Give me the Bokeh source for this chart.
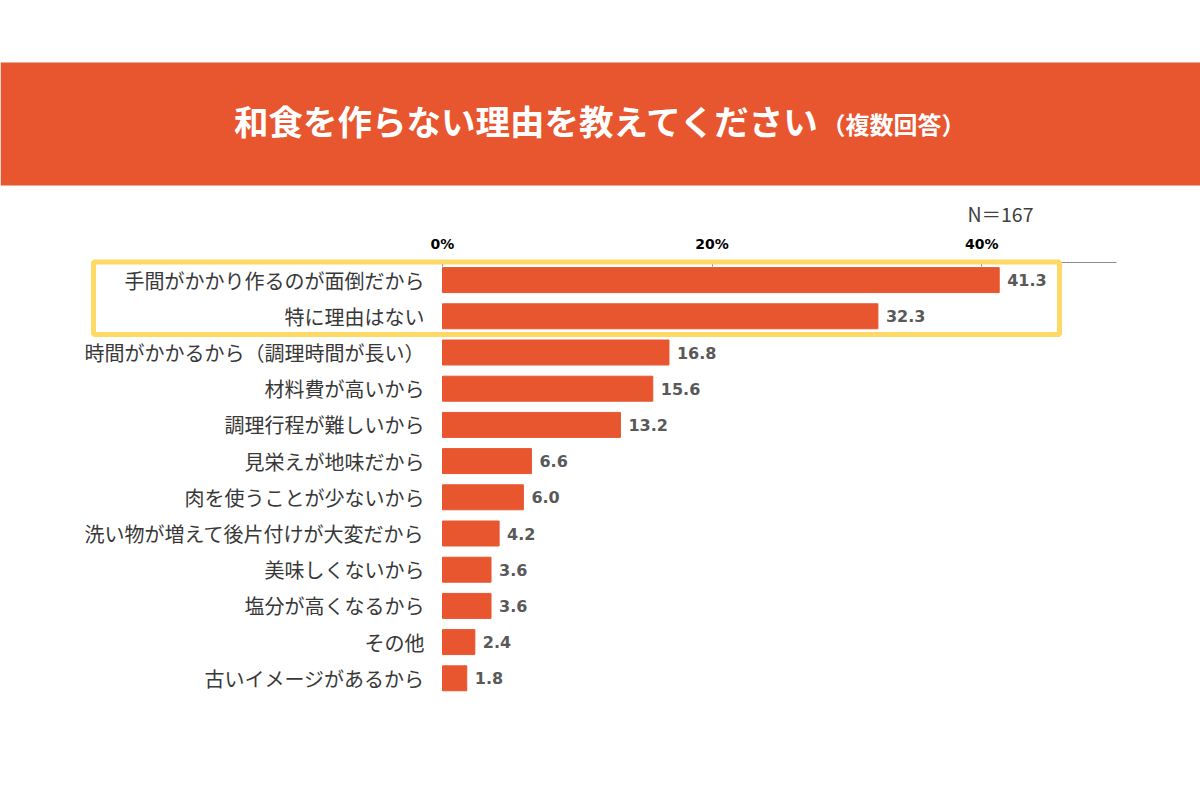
from bokeh.plotting import figure
from bokeh.models import (Range1d, FixedTicker, BoxAnnotation,
                          ColumnDataSource, PrintfTickFormatter)
from bokeh.core.properties import value
from bokeh.embed import file_html
from bokeh.resources import INLINE

# ---- data ----
categories = [
    "手間がかかり作るのが面倒だから",
    "特に理由はない",
    "時間がかかるから（調理時間が長い）",
    "材料費が高いから",
    "調理行程が難しいから",
    "見栄えが地味だから",
    "肉を使うことが少ないから",
    "洗い物が増えて後片付けが大変だから",
    "美味しくないから",
    "塩分が高くなるから",
    "その他",
    "古いイメージがあるから",
]
values = [41.3, 32.3, 16.8, 15.6, 13.2, 6.6, 6.0, 4.2, 3.6, 3.6, 2.4, 1.8]
x_ticks = [0, 20, 40]
x_max = 50
title_main = "和食を作らない理由を教えてください"
title_sub = "（複数回答）"
n_text = "N＝167"

ORANGE = "#E8562F"
YELLOW = "#FFD966"
JP = "Noto Sans CJK JP"

# ---- layout geometry (pixels) ----
W, H = 1200, 790
TOP = 40                 # frame top (space for the top axis panel)
X0_PX = 442              # where 0 % sits
PX_PER_PCT = 13.48
ROW_PX = 36.2
ROW1_PX = 279.6          # centre of first row


def px2x(sx):
    return (sx - X0_PX) / PX_PER_PCT


def px2y(sy):
    return 1 + (sy - ROW1_PX) / ROW_PX


idx = list(range(1, len(categories) + 1))
src = ColumnDataSource(dict(y=idx, v=values, cat=categories,
                            lab=[f"{v:.1f}" for v in values]))

p = figure(width=W, height=H,
           x_range=Range1d(px2x(0), px2x(W)),
           y_range=Range1d(px2y(H), px2y(TOP)),
           x_axis_location="above", y_axis_location=None,
           output_backend="svg", toolbar_location=None,
           min_border_left=0, min_border_right=0,
           min_border_top=TOP, min_border_bottom=0)
p.grid.visible = False
p.outline_line_color = None
p.background_fill_color = "white"
p.border_fill_color = "white"

# banner
p.add_layout(BoxAnnotation(top=px2y(62), bottom=px2y(185),
                           fill_color=ORANGE, fill_alpha=1.0,
                           line_alpha=0, level="underlay"))
p.text(x=[px2x(820)], y=[px2y(119.5)], text=[title_main], text_align="right",
       text_baseline="middle", text_color="white",
       text_font=value(JP), text_font_style="bold", text_font_size="34.5px")
p.text(x=[px2x(821)], y=[px2y(123)], text=[title_sub], text_align="left",
       text_baseline="middle", text_color="white",
       text_font=value(JP), text_font_style="bold", text_font_size="24px")

# N label
p.text(x=[px2x(1033)], y=[px2y(213)], text=[n_text], text_align="right",
       text_baseline="middle", text_color="#404040",
       text_font=value(JP), text_font_size="19.5px")

# bars and labels
p.hbar(y="y", left=0, right="v", height=0.69, color=ORANGE, source=src)
p.text(x="v", y="y", text="lab", source=src, x_offset=8, text_baseline="middle",
       text_font=value("DejaVu Sans"), text_font_style="bold",
       text_font_size="16px", text_color="#595959")
p.text(x=0, y="y", text="cat", source=src, x_offset=-18, text_align="right",
       text_baseline="middle", text_font=value(JP), text_font_size="20px",
       text_color="#383838")

# top axis, drawn at the top edge of the first row
xa = p.xaxis[0]
xa.fixed_location = 0.5
xa.bounds = (0, x_max)
xa.ticker = FixedTicker(ticks=x_ticks)
xa.formatter = PrintfTickFormatter(format="%d%%")
xa.axis_line_color = "#8c8c8c"
xa.major_tick_line_color = "#8c8c8c"
xa.major_tick_in = 4
xa.major_tick_out = 0
xa.minor_tick_line_color = None
xa.major_label_standoff = 10
xa.major_label_text_font = "DejaVu Sans"
xa.major_label_text_font_style = "bold"
xa.major_label_text_font_size = "14px"
xa.major_label_text_color = "#000000"

# highlight box round the first two rows
p.add_layout(BoxAnnotation(left=px2x(93), right=px2x(1059), top=0.5, bottom=2.5,
                           fill_alpha=0, line_color=YELLOW, line_alpha=1.0,
                           line_width=5))

open("out.html", "w").write(file_html(p, INLINE))
